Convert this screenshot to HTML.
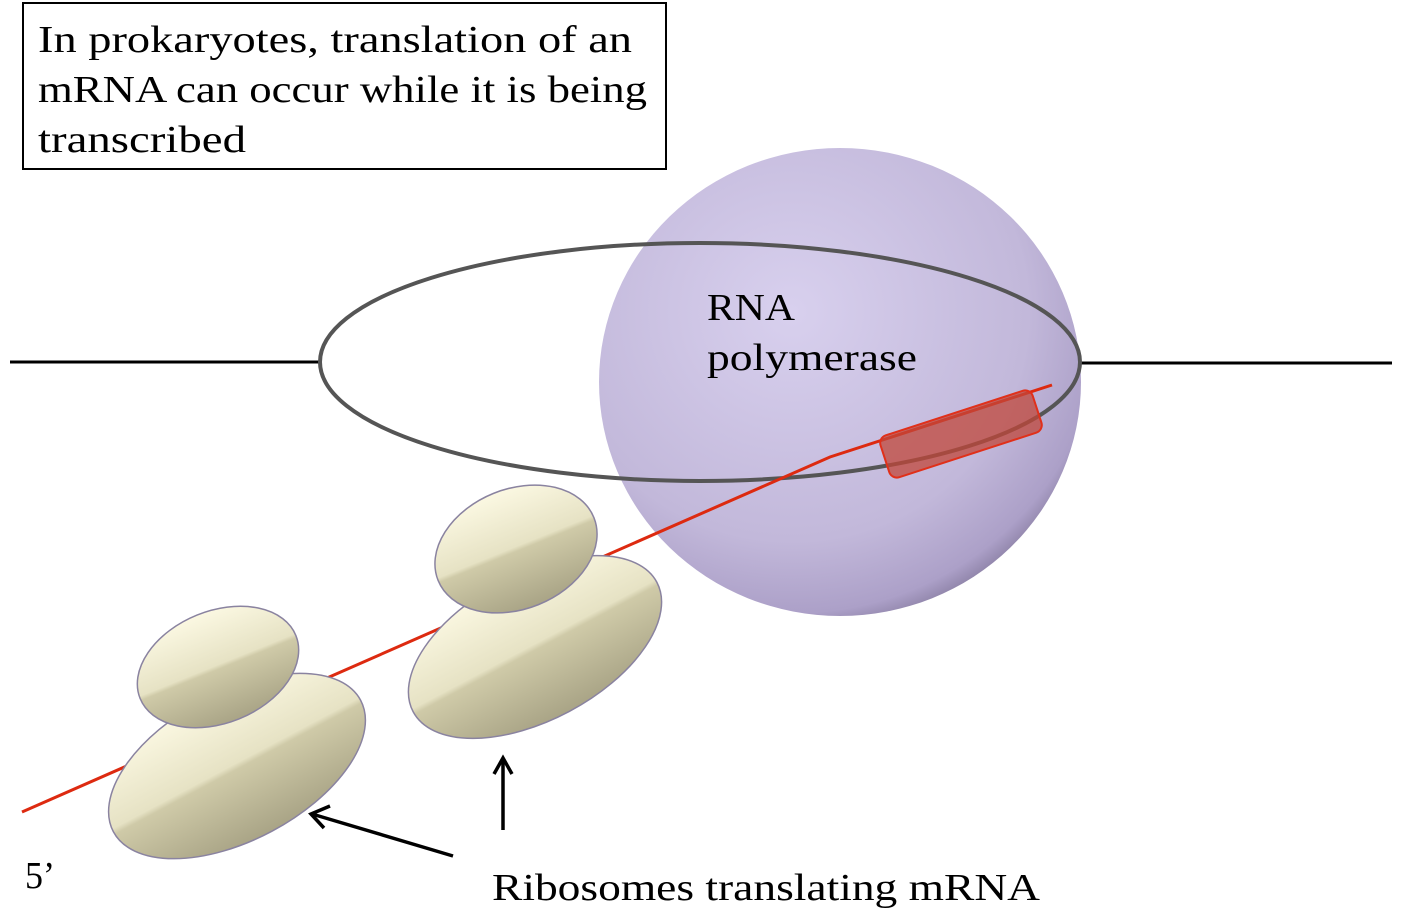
<!DOCTYPE html>
<html><head><meta charset="utf-8"><style>
body{margin:0;background:#fff;}
svg{display:block;}
text{font-family:"Liberation Serif",serif;fill:#000;}
</style></head><body>
<svg width="1403" height="919" viewBox="0 0 1403 919" xmlns="http://www.w3.org/2000/svg">
<defs>
<radialGradient id="sph" cx="0.4" cy="0.35" r="0.7">
<stop offset="0" stop-color="#d8d0ee"/>
<stop offset="0.7" stop-color="#c2b8da"/>
<stop offset="0.92" stop-color="#aca0c8"/>
<stop offset="1" stop-color="#857a9e"/>
</radialGradient>
<linearGradient id="rib" x1="0" y1="0" x2="0" y2="1">
<stop offset="0" stop-color="#fbf8e2"/>
<stop offset="0.48" stop-color="#e6e2c4"/>
<stop offset="0.52" stop-color="#cfcaa8"/>
<stop offset="1" stop-color="#a9a486"/>
</linearGradient>
</defs>
<rect x="23" y="3" width="643" height="166" fill="#fff" stroke="#000" stroke-width="2"/>
<text x="38" y="52" font-size="38" textLength="594" lengthAdjust="spacingAndGlyphs">In prokaryotes, translation of an</text>
<text x="38" y="102" font-size="38" textLength="609" lengthAdjust="spacingAndGlyphs">mRNA can occur while it is being</text>
<text x="38" y="152" font-size="38" textLength="208" lengthAdjust="spacingAndGlyphs">transcribed</text>
<line x1="10" y1="362" x2="322" y2="362" stroke="#000" stroke-width="3"/>
<line x1="1078" y1="363" x2="1392" y2="363" stroke="#000" stroke-width="3"/>
<ellipse cx="840" cy="382" rx="241" ry="234" fill="url(#sph)"/>
<ellipse cx="700" cy="362" rx="380" ry="119" fill="none" stroke="#555" stroke-width="4"/>
<polyline points="22,812 830,457 1052,385" fill="none" stroke="#dd2a10" stroke-width="3"/>
<rect x="-80" y="-22" width="160" height="44" rx="8" transform="translate(961,434) rotate(-18)" fill="#c0473a" fill-opacity="0.75" stroke="#e0301a" stroke-width="2"/>
<text x="707" y="320" font-size="38" textLength="88" lengthAdjust="spacingAndGlyphs">RNA</text>
<text x="707" y="370" font-size="38" textLength="210" lengthAdjust="spacingAndGlyphs">polymerase</text>
<g stroke="#8a83a0" stroke-width="1.5">
<ellipse cx="237" cy="766" rx="140" ry="74" transform="rotate(-28 237 766)" fill="url(#rib)"/>
<ellipse cx="218" cy="667" rx="84" ry="56" transform="rotate(-22 218 667)" fill="url(#rib)"/>
<ellipse cx="535" cy="647" rx="138" ry="73" transform="rotate(-28 535 647)" fill="url(#rib)"/>
<ellipse cx="516" cy="549" rx="84" ry="60" transform="rotate(-22 516 549)" fill="url(#rib)"/>
</g>
<g stroke="#000" stroke-width="3.5" fill="none">
<line x1="453" y1="856" x2="312" y2="814"/>
<polyline points="330,806 311,814 324,828"/>
<line x1="503" y1="830" x2="503" y2="760"/>
<polyline points="494,774 503,758 512,774"/>
</g>
<text x="25" y="888" font-size="38" textLength="30" lengthAdjust="spacingAndGlyphs">5’</text>
<text x="492" y="900" font-size="38" textLength="548" lengthAdjust="spacingAndGlyphs">Ribosomes translating mRNA</text>
</svg>
</body></html>
